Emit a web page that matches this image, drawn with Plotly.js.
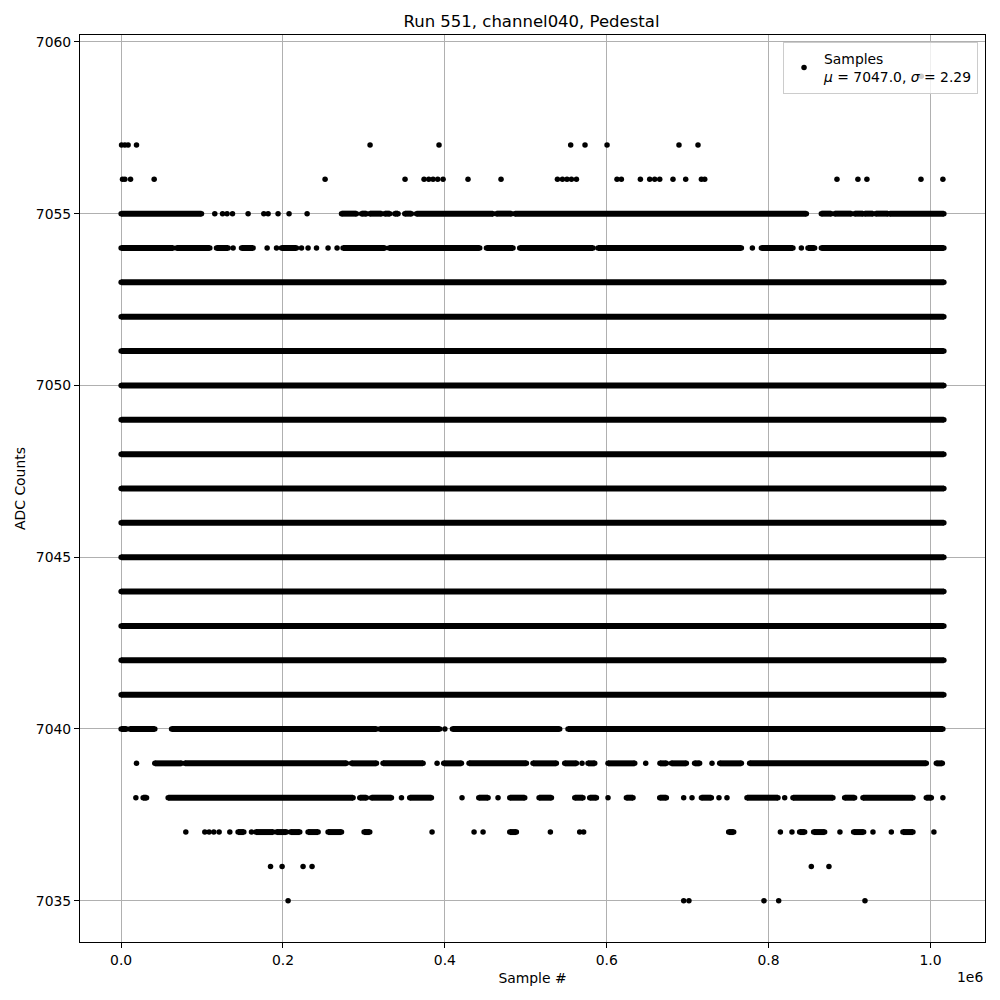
<!DOCTYPE html>
<html>
<head>
<meta charset="utf-8">
<script src="https://cdn.plot.ly/plotly-3.0.1.min.js"></script>
<style>html,body{margin:0;padding:0;background:#fff;}#chart{width:1000px;height:1000px;}</style>
</head>
<body>
<div id="chart"></div>
<script>
// ---- Data (sample index; a pair = contiguous run of samples) ----
const lastSample = 1016600;
const denseLevels = [7041, 7042, 7043, 7044, 7045, 7046, 7047, 7048, 7049, 7050, 7051, 7052, 7053];
const denseRun = [0, 1016600];

const adc7059 = [988700];
const adc7057 = [500, 4600, 8600, 19000, 307600, 392800, 555500, 573200, 600400, 689300, 712800];
const adc7056 = [1700, 4600, 11600, 40800, 252000, 350800, 374300, 380100, 385400, 391200, 397800,
  428600, 469400, 539100, 545300, 550900, 556400, 562600, 612700, 618100, 641600, 653100, 659300,
  665500, 681900, 697600, 717000, 721100, 884500, 910400, 921500, 988300, 1015400];
const adc7055 = [[0, 99300], 115700, 125300, 130900, 137600, 156900, 176300, 181600, 193900, 207500,
  229800, [272300, 290800], [297000, 303100], [307200, 321700], [325700, 331900], [338100, 342200],
  [350500, 358700], [364900, 459500], [463700, 482300], [486400, 846700], [865200, 877500],
  [881600, 902300], [906300, 916600], [918700, 928900], [932300, 947500], [949600, 1016600]];
const adc7054 = [[0, 64200], [68400, 109600], [117800, 132200], 138400, [148700, 163100], 180400,
  192000, [198100, 216700], 222900, 231000, 241400, 255700, 266800, [274200, 325700],
  [331100, 443100], [451400, 484200], [492500, 583100], [589200, 766400], 780000,
  [791100, 830100], 840500, [848700, 856900], [865200, 1016600]];
const adc7040 = [[0, 6700], [10700, 41600], [62300, 315500], [319600, 393700], 400000,
  [409400, 541900], [552200, 1015400]];
const adc7039 = [19000, [41600, 74600], [78700, 278400], [284600, 315500], [323600, 373100], 390400,
  [398600, 420500], [429900, 500800], [508900, 537800], [548100, 562600], 569500, [576900, 585200],
  [601600, 634600], 648200, [665800, 673700], [679900, 698400], [708600, 714800], 730100,
  [739600, 766400], [776600, 994900], [1007300, 1014700]];
const adc7038 = [18200, [27200, 31400], [58100, 286600], [294900, 303100], [309300, 334000], 346400,
  [356600, 383400], 421200, [441900, 453400], 465700, [480200, 498700], [516400, 531700],
  [560500, 570700], [579000, 587300], 601600, [624300, 632500], [665500, 673700], 695100, 705400,
  [717000, 729300], 738700, 748600, [773300, 811600], 819900, [830100, 879500], [894000, 906300],
  [916600, 978400], [994900, 1001100], 1015400];
const adc7037 = [79900, 103400, 108700, 114500, 121100, 134300, [144500, 151600], 161100,
  [166400, 187800], [192000, 204300], [209300, 220700], [231000, 243400], [255700, 272300],
  [300200, 307200], 384200, 436100, 447200, [480200, 488400], 530400, 566600, 571500,
  [750700, 756900], 814600, 828900, [838400, 844600], [855700, 869300], 888200, [905100, 917500],
  929000, 951700, [966000, 978400], 1004300];
const adc7036 = [184600, 198900, 224800, 235900, 852800, 874600];
const adc7035 = [206300, 695100, 701600, 794300, 812500, 919100];

const xTickVals = [0, 200000, 400000, 600000, 800000, 1000000];
const xTickText = ['0.0', '0.2', '0.4', '0.6', '0.8', '1.0'];
const yTickVals = [7035, 7040, 7045, 7050, 7055, 7060];
const legendLabel = 'Samples<br><i>μ</i> = 7047.0, <i>σ</i> = 2.29';

// ---- Build traces ----
const lx = [], ly = [], mx = [], my = [];
function addLevel(level, entries) {
  entries.forEach(function (e) {
    if (Array.isArray(e)) {
      lx.push(e[0], e[1], null); ly.push(level, level, null);
      mx.push(e[0], e[1]); my.push(level, level);
    } else {
      mx.push(e); my.push(level);
    }
  });
}
addLevel(7059, adc7059);
addLevel(7057, adc7057);
addLevel(7056, adc7056);
addLevel(7055, adc7055);
addLevel(7054, adc7054);
denseLevels.forEach(function (lv) { addLevel(lv, [denseRun]); });
addLevel(7040, adc7040);
addLevel(7039, adc7039);
addLevel(7038, adc7038);
addLevel(7037, adc7037);
addLevel(7036, adc7036);
addLevel(7035, adc7035);

const yMin = Math.min.apply(null, my), yMax = Math.max.apply(null, my);
const xSpan = lastSample - 0, ySpan = yMax - yMin;
const xRange = [0 - 0.05 * xSpan, lastSample + 0.05 * xSpan];
const yRange = [yMin - 0.05 * ySpan, yMax + 0.05 * ySpan];

const FONT = 'DejaVu Sans, sans-serif';

const traces = [
  {
    type: 'scatter', mode: 'lines', x: lx, y: ly, connectgaps: false,
    line: {color: '#000000', width: 6}, hoverinfo: 'skip', showlegend: false
  },
  {
    type: 'scatter', mode: 'markers', x: mx, y: my, name: legendLabel,
    marker: {color: '#000000', size: 5.5, line: {width: 0}}, showlegend: true
  }
];

const axisCommon = {
  showline: true, mirror: true, linecolor: '#000000', linewidth: 1,
  ticks: 'outside', ticklen: 5, tickwidth: 1, tickcolor: '#000000',
  showgrid: true, gridcolor: '#b0b0b0', gridwidth: 1, zeroline: false,
  tickfont: {family: FONT, size: 13.9, color: '#000000'}, automargin: false
};

const layout = {
  width: 1000, height: 1000,
  margin: {l: 80, r: 15, t: 35, b: 58, pad: 0},
  paper_bgcolor: '#ffffff', plot_bgcolor: '#ffffff',
  font: {family: FONT, color: '#000000'},
  title: {text: 'Run 551, channel040, Pedestal', font: {family: FONT, size: 16.5, color: '#000000'},
    x: 0.5315, xanchor: 'center', xref: 'container', y: 0.979, yanchor: 'middle', yref: 'container'},
  xaxis: Object.assign({}, axisCommon, {
    range: xRange, tickmode: 'array', tickvals: xTickVals, ticktext: xTickText,
    title: {text: 'Sample #', font: {family: FONT, size: 13.9, color: '#000000'}, standoff: 6}
  }),
  yaxis: Object.assign({}, axisCommon, {
    range: yRange, tickmode: 'array', tickvals: yTickVals, ticktext: yTickVals.map(String),
    title: {text: 'ADC Counts', font: {family: FONT, size: 13.9, color: '#000000'}, standoff: 6}
  }),
  showlegend: true,
  legend: {
    x: 0.9923, xanchor: 'right', y: 0.9923, yanchor: 'top',
    bgcolor: 'rgba(255,255,255,0.8)', bordercolor: '#cccccc', borderwidth: 1,
    font: {family: FONT, size: 13.9, color: '#000000'}
  },
  annotations: [{
    text: '1e6', xref: 'paper', yref: 'paper', x: 1, y: -0.0386, xanchor: 'right', yanchor: 'middle',
    showarrow: false, font: {family: FONT, size: 13.9, color: '#000000'}
  }]
};

Plotly.newPlot('chart', traces, layout, {displayModeBar: false, staticPlot: true});
</script>
</body>
</html>
